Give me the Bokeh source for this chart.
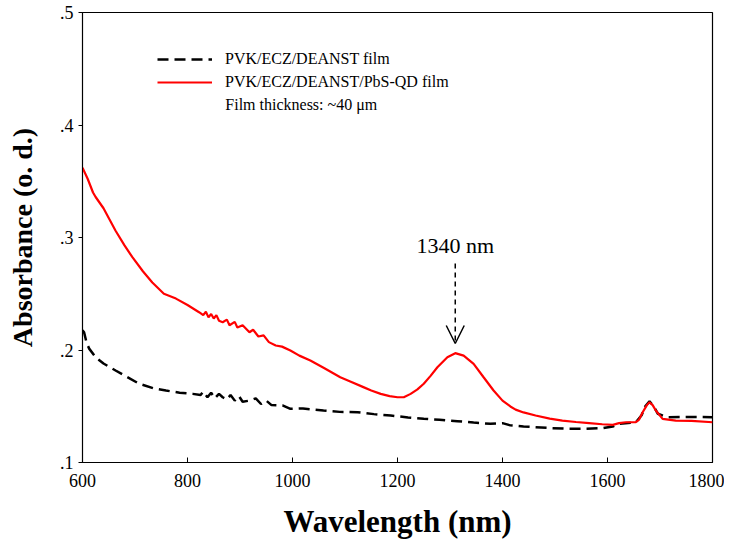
from bokeh.plotting import figure
from bokeh.models import (Range1d, FixedTicker, CustomJSTickFormatter, Legend, LegendItem,
                          Label, Arrow, OpenHead)
from bokeh.embed import file_html
from bokeh.resources import INLINE

# ---- data ----
red_wl = [600, 610, 620, 625, 640, 663, 680, 695, 715, 733, 755, 778, 800, 822,
          830, 835, 840, 845, 850, 855, 860, 867, 875, 880, 890, 895, 905, 918, 925,
          935, 945, 955, 968, 980, 996, 1013, 1034, 1060, 1091, 1110, 1135, 1150,
          1168, 1185, 1200, 1212, 1225, 1238, 1250, 1263, 1276, 1295, 1310, 1326,
          1345, 1364, 1383, 1400, 1415, 1425, 1440, 1463, 1490, 1514, 1540, 1565,
          1590, 1610, 1622, 1635, 1654, 1660, 1667, 1675, 1680, 1686, 1692, 1705,
          1730, 1760, 1800]
red_abs = [0.362, 0.352, 0.340, 0.336, 0.326, 0.306, 0.293, 0.2825, 0.270, 0.260,
           0.250, 0.2457, 0.240, 0.2336,
           0.231, 0.234, 0.229, 0.232, 0.228, 0.231, 0.226, 0.2247, 0.227, 0.222,
           0.225, 0.220, 0.222, 0.2158, 0.218, 0.212, 0.213, 0.207, 0.204, 0.203,
           0.1996, 0.195, 0.1907, 0.184, 0.1758, 0.172, 0.167, 0.164, 0.161, 0.159,
           0.158, 0.158, 0.161, 0.165, 0.170, 0.177, 0.1847, 0.1936, 0.1972, 0.195,
           0.1877, 0.1758, 0.164, 0.155, 0.1498, 0.147, 0.1445, 0.1418, 0.139,
           0.1373, 0.136, 0.135, 0.134, 0.1335, 0.135, 0.1358, 0.1358, 0.138,
           0.1447, 0.151, 0.1536, 0.151, 0.1462, 0.1388, 0.1373, 0.137, 0.1358]

blk_wl = [600, 603, 608, 613, 625, 640, 663, 685, 708, 735, 759, 785, 810, 825,
          830, 838, 845, 852, 860, 867, 875, 882, 890, 898, 905, 918, 930, 940, 950,
          960, 981, 996, 1020, 1059, 1090, 1124, 1155, 1187, 1220, 1250, 1280, 1314,
          1345, 1377, 1400, 1415, 1440, 1463, 1495, 1527, 1560, 1591, 1610, 1622,
          1654, 1665, 1672, 1680, 1688, 1696, 1714, 1760, 1800]
blk_abs = [0.2175, 0.2158, 0.206, 0.201, 0.1936, 0.188, 0.1818, 0.176, 0.170, 0.166,
           0.164, 0.162, 0.161, 0.160, 0.163, 0.158, 0.162, 0.157, 0.161, 0.158,
           0.156, 0.160, 0.155, 0.159, 0.154, 0.155, 0.157, 0.152, 0.155, 0.151,
           0.1507, 0.1477, 0.148, 0.1462, 0.145, 0.1447, 0.143, 0.1418, 0.140,
           0.1388, 0.138, 0.1367, 0.1355, 0.1344, 0.135, 0.133, 0.132, 0.1314,
           0.1305, 0.130, 0.130, 0.1305, 0.132, 0.1344, 0.1358, 0.142, 0.150,
           0.1545, 0.150, 0.1433, 0.1403, 0.1405, 0.1403]

x_ticks = [600, 800, 1000, 1200, 1400, 1600, 1800]
y_ticks = [0.1, 0.2, 0.3, 0.4, 0.5]

label_black = "PVK/ECZ/DEANST film"
label_red = "PVK/ECZ/DEANST/PbS-QD film"
note_text = "Film thickness: ~40 \u03bcm"
peak_text = "1340 nm"
peak_x = 1310
peak_label_y = 0.293
arrow_top = 0.277
arrow_tip = 0.2058
note_x, note_y = 872, 0.418

FONT = "Liberation Serif"

p = figure(width=724, height=543, output_backend="svg", toolbar_location=None,
           x_range=Range1d(600, 1800), y_range=Range1d(0.1, 0.5),
           min_border_left=82, min_border_top=12, min_border_right=12,
           min_border_bottom=81)
p.grid.visible = False
p.outline_line_color = "black"
p.outline_line_width = 1.2
p.background_fill_color = "white"
p.border_fill_color = "white"

# axes
xa = p.xaxis[0]
xa.ticker = FixedTicker(ticks=x_ticks)
xa.major_tick_in = 5
xa.major_tick_out = 0
xa.minor_tick_line_color = None
xa.axis_line_color = "black"
xa.major_tick_line_color = "black"
xa.major_label_text_font = FONT
xa.major_label_text_font_size = "18px"
xa.major_label_text_color = "black"
xa.major_label_standoff = 11
xa.axis_label = "Wavelength (nm)"
xa.axis_label_text_font = FONT
xa.axis_label_text_font_style = "bold"
xa.axis_label_text_font_size = "31px"
xa.axis_label_text_color = "black"
xa.axis_label_standoff = 14

ya = p.yaxis[0]
ya.ticker = FixedTicker(ticks=y_ticks)
ya.formatter = CustomJSTickFormatter(code="return tick.toFixed(1).replace(/^0/, '');")
ya.major_tick_in = 0
ya.major_tick_out = 4
ya.minor_tick_line_color = None
ya.axis_line_color = "black"
ya.major_tick_line_color = "black"
ya.major_label_text_font = FONT
ya.major_label_text_font_size = "18px"
ya.major_label_text_color = "black"
ya.major_label_standoff = 5
ya.axis_label = "Absorbance (o. d.)"
ya.axis_label_text_font = FONT
ya.axis_label_text_font_style = "bold"
ya.axis_label_text_font_size = "28px"
ya.axis_label_text_color = "black"
ya.axis_label_standoff = 19

# lines
r_blk = p.line(blk_wl, blk_abs, line_color="black", line_width=2.5, line_dash="11 6")
r_red = p.line(red_wl, red_abs, line_color="#ff0000", line_width=2.2)

legend = Legend(items=[LegendItem(label=label_black, renderers=[r_blk]),
                       LegendItem(label=label_red, renderers=[r_red])],
                location=(75, 370), margin=0, padding=0, spacing=3,
                glyph_width=55, glyph_height=20, label_height=20,
                label_standoff=13, label_text_font=FONT,
                label_text_font_size="16px", label_text_color="black",
                border_line_alpha=0, background_fill_alpha=0)
p.add_layout(legend)

p.add_layout(Label(x=note_x, y=note_y, text=note_text, text_font=FONT,
                   text_font_size="16px", text_baseline="middle", text_align="left",
                   text_color="black"))

p.add_layout(Label(x=peak_x, y=peak_label_y, text=peak_text, text_font=FONT,
                   text_font_size="22px", text_baseline="middle", text_align="center",
                   text_color="black"))

p.add_layout(Arrow(x_start=peak_x, y_start=arrow_top, x_end=peak_x, y_end=arrow_tip,
                   line_color="black", line_width=1.5, line_dash="5 4",
                   end=OpenHead(size=18, line_width=1.5, line_color="black")))

open("out.html", "w").write(file_html(p, INLINE))
